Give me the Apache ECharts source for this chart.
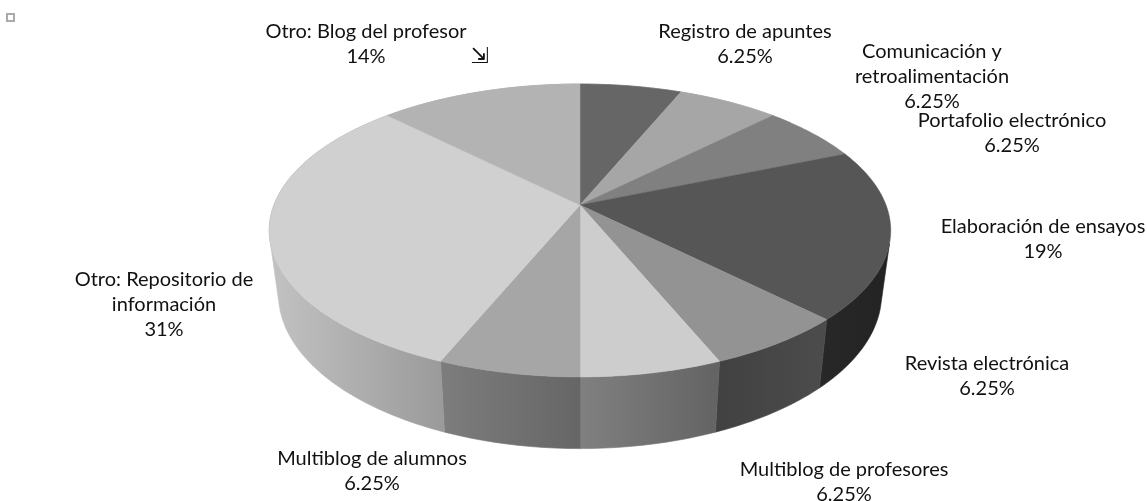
<!DOCTYPE html>
<html><head><meta charset="utf-8">
<style>html,body{margin:0;padding:0;background:#fff}#c{width:1147px;height:501px}</style>
<script src="https://cdn.jsdelivr.net/npm/echarts@6/dist/echarts.min.js"></script>
</head><body><div id="c"></div>
<script>
// --- data ---
const categories = ['Registro de apuntes','Comunicación y\nretroalimentación','Portafolio electrónico','Elaboración de ensayos','Revista electrónica','Multiblog de profesores','Multiblog de alumnos','Otro: Repositorio de\ninformación','Otro: Blog del profesor'];
const sliceShare = [6.25,6.25,6.25,18.75,6.25,6.25,6.25,31.25,12.5];
const printedLabels = ['6.25%','6.25%','6.25%','19%','6.25%','6.25%','6.25%','31%','14%'];
// --- style ---
const topColors = ['#666666','#a6a6a6','#808080','#565656','#939393','#cdcdcd','#a6a6a6','#d0d0d0','#b3b3b3'];
const wallLeft  = ['#666666','#a6a6a6','#808080','#282828','#414141','#808080','#7d7d7d','#c2c2c2','#b3b3b3'];
const wallRight = ['#666666','#a6a6a6','#808080','#232323','#4c4c4c','#636363','#666666','#9a9a9a','#b3b3b3'];
const labelCenterX = [745,932,1012,1043,987,844,372,164,366];
const labelFirstY  = [32,52,121,227,364,470,459,280,32];
const lineGap = 24.8;
// --- projection of the disc (perspective) ---
const cx = 580, K = 0.174;
const topRim = {R:306, S:142, cy:205};
const lowRim = {R:297, S:150, cy:267};
const wallFrom = 105, wallTo = 255; // the side wall is visible between these silhouette angles
function proj(rim, deg){
  const t = deg*Math.PI/180, w = 1+K*Math.cos(t);
  return [cx+rim.R*Math.sin(t)/w, rim.cy-rim.S*Math.cos(t)/w];
}
function arc(rim, a, b){
  const n = Math.max(2, Math.ceil(Math.abs(b-a))), p = [];
  for(let i=0;i<=n;i++) p.push(proj(rim, a+(b-a)*i/n));
  return p;
}
const total = sliceShare.reduce((s,v)=>s+v,0);
function angles(i){
  let before = 0;
  for(let j=0;j<i;j++) before += sliceShare[j];
  return [before/total*360, (before+sliceShare[i])/total*360];
}
const seriesData = sliceShare.map((v,i)=>({name:categories[i].replace('\n',' '), value:[i,v]}));

const option = {
  animation:false,
  backgroundColor:'#fff',
  graphic:[
    {type:'rect',shape:{x:7,y:14,width:7,height:7},style:{fill:'#fff',stroke:'#aaaaaa',lineWidth:2}},
    {type:'text',x:480,y:57,style:{text:'\u21F2',font:'22px "DejaVu Sans"',fill:'#111',align:'center',verticalAlign:'middle'}},
    {type:'polyline',shape:{points:arc(topRim,235,410)},style:{fill:null,stroke:'rgba(110,110,110,0.7)',lineWidth:0.8}}
  ],
  series:[
    {type:'custom',coordinateSystem:'none',z:1,silent:true,data:seriesData,
     renderItem(p,api){
       const i = api.value(0), [a0,b0] = angles(i);
       const a = Math.max(a0,wallFrom), b = Math.min(b0,wallTo);
       if(b<=a) return {type:'group',children:[]};
       const pts = arc(topRim,a,b).concat(arc(lowRim,b,a));
       const grad = new echarts.graphic.LinearGradient(0,0,1,0,[{offset:0,color:wallLeft[i]},{offset:1,color:wallRight[i]}]);
       return {type:'polygon',shape:{points:pts},style:{fill:grad,stroke:grad,lineWidth:0.6}};
     }},
    {type:'custom',coordinateSystem:'none',z:2,silent:true,data:seriesData,
     renderItem(p,api){
       const i = api.value(0), [a,b] = angles(i);
       const pts = [[cx,topRim.cy]].concat(arc(topRim,a,b));
       return {type:'polygon',shape:{points:pts},style:{fill:topColors[i],stroke:topColors[i],lineWidth:0.5}};
     }},
    {type:'custom',coordinateSystem:'none',z:3,silent:true,data:seriesData,
     renderItem(p,api){
       const i = api.value(0);
       const lines = categories[i].split('\n').concat(printedLabels[i]);
       return {type:'group',children:lines.map((t,k)=>({type:'text',x:labelCenterX[i],y:labelFirstY[i]+k*lineGap,
         style:{text:t,font:'20px Lato',fill:'#111',align:'center',verticalAlign:'middle'}}))};
     }}
  ]
};
echarts.init(document.getElementById('c'),null,{renderer:'canvas'}).setOption(option);
</script></body></html>
